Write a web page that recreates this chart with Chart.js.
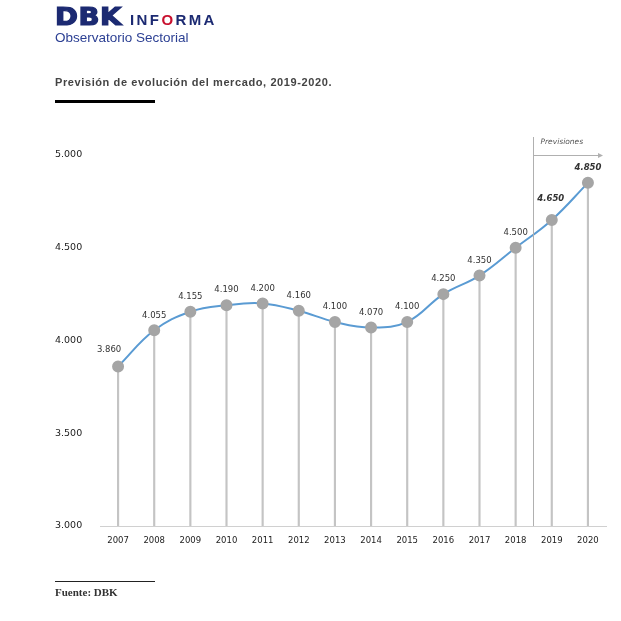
<!DOCTYPE html>
<html>
<head>
<meta charset="utf-8">
<script src="https://cdn.jsdelivr.net/npm/chart.js@4"></script>
<style>
  body { margin: 0; background: #fff; }
  #wrap { position: absolute; left: 0; top: 0; width: 621px; height: 621px; }
  .dbk { position: absolute; left: 55px; top: 5px; line-height: 1; color: #1c2a72; font-family: "DejaVu Sans", sans-serif; font-size: 24px; font-weight: bold; letter-spacing: 0.5px; -webkit-text-stroke: 1.2px #1c2a72; transform: scaleX(1.15); transform-origin: left top; }
  .inf { position: absolute; left: 130px; top: 12px; line-height: 1; color: #1c2a72; font-family: "Liberation Sans", Arial, sans-serif; font-size: 15px; font-weight: bold; letter-spacing: 2.4px; }
  .inf i { color: #c8102e; font-style: normal; }
  .obs { position: absolute; left: 55px; top: 31px; line-height: 1; color: #2b3f93; font-family: "Liberation Sans", Arial, sans-serif; font-size: 13.5px; }
  .title { position: absolute; left: 55px; top: 77px; line-height: 1; color: #444; font-family: "Liberation Sans", Arial, sans-serif; font-size: 11px; font-weight: bold; letter-spacing: 0.6px; }
  .bar { position: absolute; left: 55px; top: 100px; width: 100px; height: 3px; background: #000; }
  .fline { position: absolute; left: 55px; top: 581px; width: 100px; height: 1px; background: #222; }
  .fuente { position: absolute; left: 55px; top: 587px; line-height: 1; font-family: "Liberation Serif", "DejaVu Serif", serif; font-size: 11px; font-weight: bold; color: #333; }
</style>
</head>
<body>
<div id="wrap"><canvas id="market"></canvas></div>
<div class="dbk">DBK</div>
<div class="inf">INF<i>O</i>RMA</div>
<div class="obs">Observatorio Sectorial</div>
<div class="title">Previsión de evolución del mercado, 2019-2020.</div>
<div class="bar"></div>
<div class="fline"></div>
<div class="fuente">Fuente: DBK</div>
<script>
const years = ["2007", "2008", "2009", "2010", "2011", "2012", "2013", "2014", "2015", "2016", "2017", "2018", "2019", "2020"];
const market = [3860, 4055, 4155, 4190, 4200, 4160, 4100, 4070, 4100, 4250, 4350, 4500, 4650, 4850];
const forecastFrom = "2019";
const forecastLabel = "Previsiones";

function fmt(v) {
	return String(v).replace(/\B(?=(\d{3})+(?!\d))/g, ".");
}

const firstForecast = years.indexOf(forecastFrom);

// value labels over each point
const valueLabels = {
	id: "valueLabels",
	afterDatasetsDraw(chart) {
		const ctx = chart.ctx;
		const meta = chart.getDatasetMeta(1);
		ctx.save();
		ctx.fillStyle = "#333";
		ctx.textAlign = "center";
		ctx.textBaseline = "middle";
		meta.data.forEach((pt, i) => {
			const fc = i >= firstForecast;
			ctx.font = (fc ? "italic bold " : "") + "8.5px 'DejaVu Sans'";
			let dx = 0, dy = -15;
			if (i === 0) { dx = -9; dy = -17; }
			if (i === firstForecast) { dx = -1; dy = -21; }
			ctx.fillText(fmt(market[i]), pt.x + dx, pt.y + dy);
		});
		ctx.restore();
	}
};

// forecast separator and arrow
const forecastMark = {
	id: "forecastMark",
	afterDraw(chart) {
		const ctx = chart.ctx;
		const xs = chart.scales.x;
		const area = chart.chartArea;
		const x = Math.floor((xs.getPixelForValue(firstForecast - 1) + xs.getPixelForValue(firstForecast)) / 2) + 0.5;
		const top = area.top - 18;
		const ay = area.top + 0.5;
		ctx.save();
		ctx.strokeStyle = "#b0b0b0";
		ctx.lineWidth = 1;
		ctx.beginPath();
		ctx.moveTo(x, top);
		ctx.lineTo(x, area.bottom);
		ctx.moveTo(x, ay);
		ctx.lineTo(area.right - 8, ay);
		ctx.stroke();
		ctx.fillStyle = "#b0b0b0";
		ctx.beginPath();
		ctx.moveTo(area.right - 8, ay - 2.5);
		ctx.lineTo(area.right - 3, ay);
		ctx.lineTo(area.right - 8, ay + 2.5);
		ctx.closePath();
		ctx.fill();
		ctx.fillStyle = "#555";
		ctx.font = "italic 7.5px 'DejaVu Sans'";
		ctx.textAlign = "left";
		ctx.textBaseline = "middle";
		ctx.fillText(forecastLabel, x + 7, top + 5);
		ctx.restore();
	}
};

new Chart(document.querySelector("#market"), {
	type: "bar",
	data: {
		labels: years,
		datasets: [{
			type: "bar",
			data: market,
			backgroundColor: "#c4c4c4",
			barThickness: 1.5,
			order: 2
		}, {
			type: "line",
			data: market,
			borderColor: "#5a9bd3",
			borderWidth: 2,
			tension: 0.4,
			pointRadius: 5,
			pointBackgroundColor: "#a5a5a5",
			pointBorderColor: "#a5a5a5",
			fill: false,
			order: 1
		}]
	},
	options: {
		responsive: true,
		maintainAspectRatio: false,
		animation: false,
		layout: { padding: { left: 55, top: 155, right: 15, bottom: 65 } },
		plugins: {
			legend: { display: false },
			tooltip: { enabled: false }
		},
		scales: {
			x: {
				offset: true,
				grid: { display: false },
				border: { color: "#d0d0d0", width: 1 },
				ticks: { color: "#222", font: { family: "DejaVu Sans", size: 8.5 }, padding: 2, maxRotation: 0 },
				afterFit: (s) => { s.height = 30; }
			},
			y: {
				min: 3000,
				max: 5000,
				grid: { display: false },
				border: { display: false },
				ticks: {
					stepSize: 500,
					crossAlign: "far",
					color: "#222",
					font: { family: "DejaVu Sans", size: 9.5 },
					callback: (v) => fmt(v)
				},
				afterFit: (s) => { s.width = 45; }
			}
		}
	},
	plugins: [valueLabels, forecastMark]
});
</script>
</body>
</html>
